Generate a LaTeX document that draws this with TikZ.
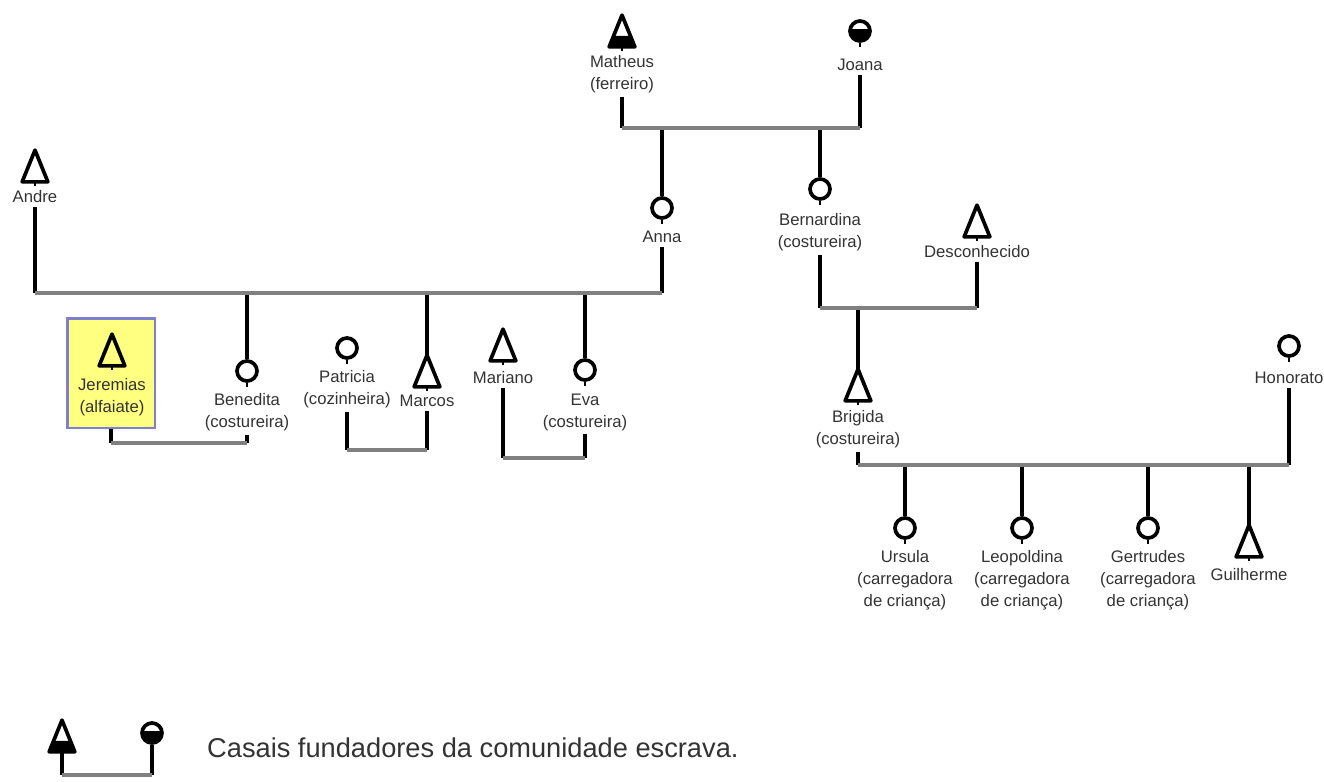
\documentclass[tikz,border=0pt]{standalone}
\usepackage{fontspec}
\setmainfont{Liberation Sans}
\usetikzlibrary{calc}
\definecolor{kinbar}{HTML}{808080}
\definecolor{kinbox}{HTML}{FFFF80}
\definecolor{kinframe}{HTML}{7F7FCF}
\definecolor{kintext}{HTML}{333333}

\begin{document}
\begin{tikzpicture}[x=0.02cm, y=-0.02cm,
  every node/.style={font=\fontsize{9.5}{12.5}\selectfont, text=kintext},
  male/.style={inner sep=0pt, minimum width=0.5cm, minimum height=0.62cm},
  female/.style={circle, draw, line width=2.1pt, inner sep=0pt, minimum size=0.4cm},
  founder/.style={path picture={\fill ($(path picture bounding box.west)+(0,-2)$)
      rectangle (path picture bounding box.south east);}},
  lbl/.style={align=center, inner sep=2pt},
  hibox/.style={draw=kinframe, fill=kinbox, line width=1.7pt},
  stem/.style={line width=2.2pt},
  bar/.style={line width=2.2pt, kinbar, line cap=square},
  sym/.style={line width=2.1pt, line join=round}]
  \useasboundingbox (0,0) rectangle (1324,781);

  % marriage lines
  \coordinate (c1) at (0,128);
  \coordinate (c2) at (0,293);
  \coordinate (c3) at (0,443);
  \coordinate (c4) at (0,450);
  \coordinate (c5) at (0,458);
  \coordinate (c6) at (0,308);
  \coordinate (c7) at (0,465);
  \coordinate (c8) at (0,775);

  % highlighted person
  \node[hibox, minimum width=1.76cm, minimum height=2.2cm] (jbox) at (111,373) {};

  % people
  \node[male] (matheus) at (622,31) {};
  \node[female, founder] (joana) at (860,31) {};
  \node[male] (andre) at (35,166) {};
  \node[female] (anna) at (662,208) {};
  \node[female] (bernardina) at (820,189) {};
  \node[male] (desconhecido) at (977,221) {};
  \node[male] (jeremias) at (112,350) {};
  \node[female] (benedita) at (247,371) {};
  \node[female] (patricia) at (347,348) {};
  \node[male] (marcos) at (427,371) {};
  \node[male] (mariano) at (503,345) {};
  \node[female] (eva) at (585,370) {};
  \node[male] (brigida) at (858,385) {};
  \node[female] (honorato) at (1289,346) {};
  \node[female] (ursula) at (905,528) {};
  \node[female] (leopoldina) at (1022,528) {};
  \node[female] (gertrudes) at (1148,528) {};
  \node[male] (guilherme) at (1249,541) {};
  \node[male] (leg-m) at (62,736) {};
  \node[female, founder] (leg-f) at (152,733) {};

  \foreach \n in {matheus,andre,desconhecido,jeremias,marcos,mariano,brigida,guilherme,leg-m}
    \draw[sym] (\n.south west) -- (\n.north) -- (\n.south east) -- cycle;
  \foreach \n in {matheus,leg-m}
    \fill ($(\n.south west)!0.35!(\n.north)$) -- ($(\n.south east)!0.35!(\n.north)$)
      -- (\n.south east) -- (\n.south west) -- cycle;
  \foreach \n in {matheus,joana,andre,anna,bernardina,desconhecido,jeremias,benedita,
      patricia,marcos,mariano,eva,brigida,honorato,ursula,leopoldina,gertrudes,guilherme}
    \draw[line width=1.2pt] (\n.south) -- ++(0,4);

  % labels
  \node[lbl] (matheus-l) at (622,74) {Matheus\\(ferreiro)};
  \node[lbl] (joana-l) at (860,65) {Joana};
  \node[lbl] (andre-l) at (35,197) {Andre};
  \node[lbl] (anna-l) at (662,237) {Anna};
  \node[lbl] (bernardina-l) at (820,232) {Bernardina\\(costureira)};
  \node[lbl] (desconhecido-l) at (977,252) {Desconhecido};
  \node[lbl] (jeremias-l) at (112,397) {Jeremias\\(alfaiate)};
  \node[lbl] (benedita-l) at (247,412) {Benedita\\(costureira)};
  \node[lbl] (patricia-l) at (347,389) {Patricia\\(cozinheira)};
  \node[lbl] (marcos-l) at (427,401) {Marcos};
  \node[lbl] (mariano-l) at (503,378) {Mariano};
  \node[lbl] (eva-l) at (585,412) {Eva\\(costureira)};
  \node[lbl] (brigida-l) at (858,429) {Brigida\\(costureira)};
  \node[lbl] (honorato-l) at (1289,378) {Honorato};
  \node[lbl] (ursula-l) at (905,580) {Ursula\\(carregadora\\de criança)};
  \node[lbl] (leopoldina-l) at (1022,580) {Leopoldina\\(carregadora\\de criança)};
  \node[lbl] (gertrudes-l) at (1148,580) {Gertrudes\\(carregadora\\de criança)};
  \node[lbl] (guilherme-l) at (1249,575) {Guilherme};
  \node[anchor=west, font=\fontsize{15.5}{18}\selectfont] (leg-t) at (201,748)
       {Casais fundadores da comunidade escrava.};

  % Matheus + Joana
  \draw[stem] (matheus-l.south) -- (matheus-l.south |- c1);
  \draw[stem] (joana-l.south) -- (joana-l.south |- c1);
  \foreach \n in {anna,bernardina}
    \draw[stem] (\n.north |- c1) -- (\n.north);
  \draw[bar] (matheus-l.south |- c1) -- (joana-l.south |- c1);

  % Andre + Anna
  \draw[stem] (andre-l.south) -- (andre-l.south |- c2);
  \draw[stem] (anna-l.south) -- (anna-l.south |- c2);
  \foreach \n in {benedita,marcos,eva}
    \draw[stem] (\n.north |- c2) -- (\n.north);
  \draw[bar] (andre-l.south |- c2) -- (anna-l.south |- c2);

  % Jeremias + Benedita
  \draw[stem] (jbox.south) -- (jbox.south |- c3);
  \draw[stem] (benedita-l.south) -- (benedita-l.south |- c3);
  \draw[bar] (jbox.south |- c3) -- (benedita-l.south |- c3);

  % Patricia + Marcos
  \draw[stem] (patricia-l.south) -- (patricia-l.south |- c4);
  \draw[stem] (marcos-l.south) -- (marcos-l.south |- c4);
  \draw[bar] (patricia-l.south |- c4) -- (marcos-l.south |- c4);

  % Mariano + Eva
  \draw[stem] (mariano-l.south) -- (mariano-l.south |- c5);
  \draw[stem] (eva-l.south) -- (eva-l.south |- c5);
  \draw[bar] (mariano-l.south |- c5) -- (eva-l.south |- c5);

  % Bernardina + Desconhecido
  \draw[stem] (bernardina-l.south) -- (bernardina-l.south |- c6);
  \draw[stem] (desconhecido-l.south) -- (desconhecido-l.south |- c6);
  \draw[stem] (brigida.north |- c6) -- (brigida.north);
  \draw[bar] (bernardina-l.south |- c6) -- (desconhecido-l.south |- c6);

  % Brigida + Honorato
  \draw[stem] (brigida-l.south) -- (brigida-l.south |- c7);
  \draw[stem] (honorato-l.south) -- (honorato-l.south |- c7);
  \foreach \n in {ursula,leopoldina,gertrudes,guilherme}
    \draw[stem] (\n.north |- c7) -- (\n.north);
  \draw[bar] (brigida-l.south |- c7) -- (honorato-l.south |- c7);

  % legend
  \draw[stem] (leg-m.south) -- (leg-m.south |- c8);
  \draw[stem] (leg-f.south) -- (leg-f.south |- c8);
  \draw[bar] (leg-m.south |- c8) -- (leg-f.south |- c8);
\end{tikzpicture}
\end{document}
